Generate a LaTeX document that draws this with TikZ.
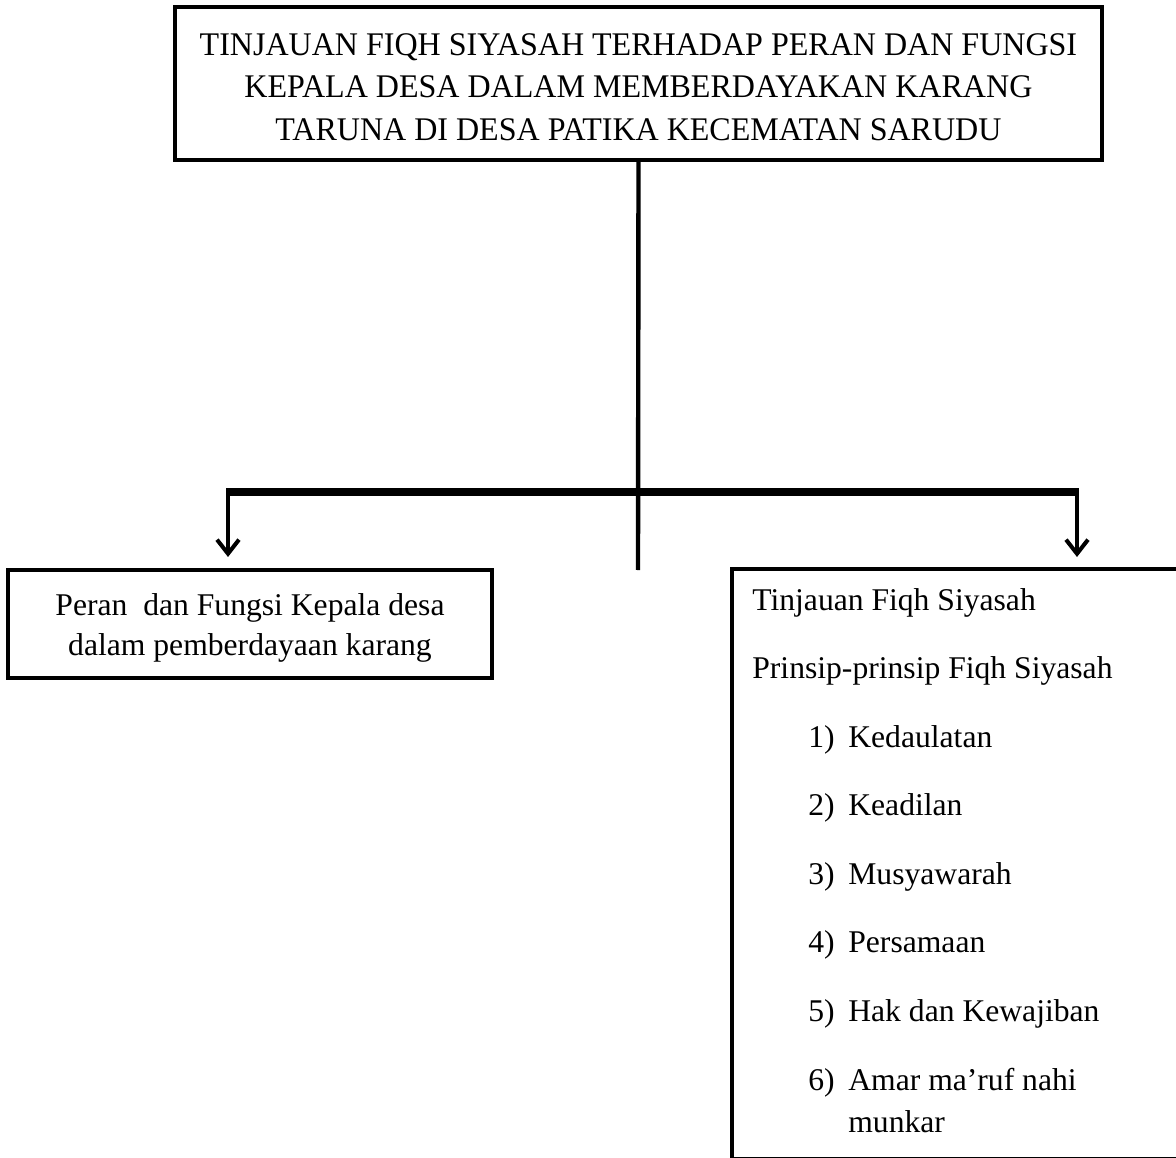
\documentclass[tikz,border=0pt]{standalone}
\usepackage{fontspec}
\setmainfont{Liberation Serif}
\newfontfamily\judulfont[FakeStretch=0.97]{Liberation Serif}
\usetikzlibrary{arrows.meta,positioning}

\begin{document}
\begin{tikzpicture}[
      x=0.02cm, y=-0.02cm,
      box/.style={draw, line width=2.3pt, inner sep=0pt,
                  font=\fontsize{18}{22.7}\selectfont},
      txt/.style={anchor=base west, inner sep=0pt,
                  font=\fontsize{18}{20}\selectfont},
      link/.style={line width=2.5pt},
      bar/.style={line width=4.5pt, shorten <=-1.1pt, shorten >=-1.1pt},
      arrow/.style={line width=2.3pt, -{Straight Barb[length=8pt,width=12.5pt]}},
    ]
    \clip (0,0) rectangle (1176,1158);
    \node[box, align=center, minimum width=18.54cm, minimum height=3.06cm,
          font=\judulfont\fontsize{18.8}{24.2}\selectfont]
      (judul) at (638.5,83.5)
      {\rule{0pt}{0.58cm}TINJAUAN FIQH SIYASAH TERHADAP PERAN DAN FUNGSI\\
       KEPALA DESA DALAM MEMBERDAYAKAN KARANG\\
       TARUNA DI DESA PATIKA KECEMATAN SARUDU};
    \node[box, align=center, minimum width=9.68cm, minimum height=2.16cm]
      (peran) at (250,624)
      {\rule{0pt}{0.6cm}Peran\ \ dan Fungsi Kepala desa\\dalam pemberdayaan karang};
    \node[box, anchor=north west, minimum width=9.6cm, minimum height=11.8cm]
      (prinsip) at (730,567) {};

    \node[txt] (tinjauan) at (752,610) {Tinjauan Fiqh Siyasah};
    \node[txt] (subjudul) at (752,678) {Prinsip-prinsip Fiqh Siyasah};
    \foreach \i/\y/\isi in {1/747/Kedaulatan, 2/815/Keadilan, 3/884/Musyawarah,
                            4/952/Persamaan, 5/1021/Hak dan Kewajiban,
                            6/1090/Amar ma’ruf nahi}
      {\node[txt] (no\i) at (808,\y) {\i)};
       \node[txt] (isi\i) at (848,\y) {\isi};}
    \node[txt] (isi6b) at (848,1132) {munkar};

    \coordinate (kiri) at (228,492);
    \coordinate (kanan) at (1077,492);
    \coordinate (ujung) at (638,570);
    \draw[link] (judul.south) -- (ujung);
    \draw[bar] (kiri) -- (kanan);
    \draw[arrow, shorten >=0.22cm] (kiri) -- (kiri |- peran.north);
    \draw[arrow, shorten >=0.2cm] (kanan) -- (kanan |- prinsip.north);
\end{tikzpicture}
\end{document}
